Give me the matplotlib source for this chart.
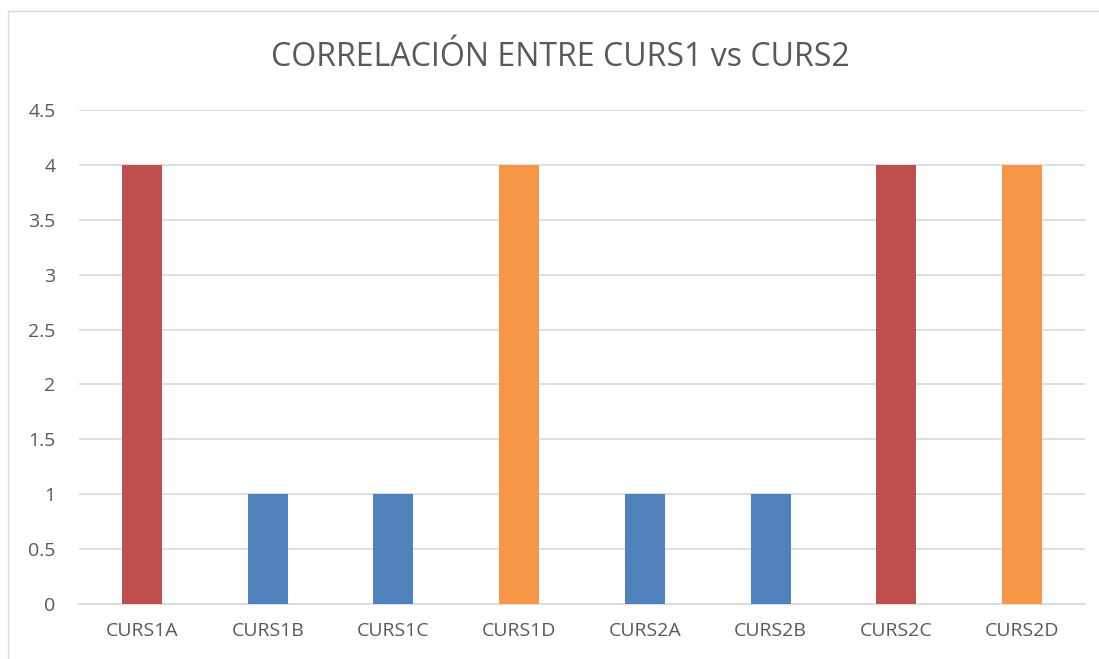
import matplotlib.pyplot as plt
from matplotlib.patches import Rectangle

categories = ["CURS1A", "CURS1B", "CURS1C", "CURS1D", "CURS2A", "CURS2B", "CURS2C", "CURS2D"]
values = [4, 1, 1, 4, 1, 1, 4, 4]
bar_colors = ["#C0504D", "#4F81BD", "#4F81BD", "#F79646", "#4F81BD", "#4F81BD", "#C0504D", "#F79646"]
yticks = [0, 0.5, 1, 1.5, 2, 2.5, 3, 3.5, 4, 4.5]
ytick_labels = ["0", "0.5", "1", "1.5", "2", "2.5", "3", "3.5", "4", "4.5"]

TEXT = "#595959"
GRID = "#D9D9D9"

plt.rcParams["font.family"] = ["Open Sans", "DejaVu Sans"]

fig = plt.figure(figsize=(10.99, 6.59), dpi=100)
ax = fig.add_axes([0.0719, 0.0835, 0.9154, 0.7496])

# chart frame (only left and top edges fall inside the image)
fig.patches.append(Rectangle((8 / 1099, -0.05), 1.2, 1 - 11 / 659 + 0.05,
                             transform=fig.transFigure, fill=False,
                             edgecolor=GRID, linewidth=1.0))

x = range(len(categories))
ax.bar(x, values, width=0.318, color=bar_colors, zorder=3)

ax.set_xlim(-0.5, len(categories) - 0.5)
ax.set_ylim(0, 4.5)
ax.set_yticks(yticks)
ax.set_yticklabels(ytick_labels)
ax.set_xticks(list(x))
ax.set_xticklabels(categories)
ax.tick_params(axis="both", length=0, colors=TEXT, labelsize=14)
ax.tick_params(axis="y", pad=17)
ax.tick_params(axis="x", pad=13)
ax.yaxis.grid(True, color=GRID, linewidth=1.2, zorder=0)
for side in ("top", "right", "left"):
    ax.spines[side].set_visible(False)
ax.spines["bottom"].set_color(GRID)
ax.spines["bottom"].set_linewidth(1.2)

fig.text(0.510, 0.912, "CORRELACIÓN ENTRE CURS1 vs CURS2", ha="center", va="center",
         fontsize=23, color=TEXT)

fig.savefig("out.png", dpi=100)
